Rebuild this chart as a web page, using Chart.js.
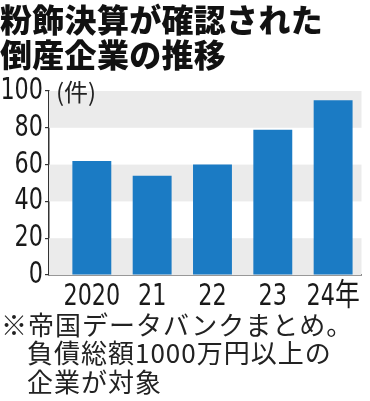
<!DOCTYPE html>
<html lang="ja">
<head>
<meta charset="UTF-8">
<title>粉飾決算が確認された倒産企業の推移</title>
<script src="https://cdn.jsdelivr.net/npm/chart.js@4"></script>
<style>
  body { margin: 0; width: 370px; height: 401px; position: relative; background: #fff; overflow: hidden; }
  #wrap { position: absolute; left: 0; top: 0; width: 370px; height: 401px; }
  .title {
    position: absolute; left: 0; top: 1px; margin: 0;
    font-family: "Noto Sans CJK JP", sans-serif; font-weight: 900;
    font-size: 32px; line-height: 35px; color: #111; letter-spacing: 0.3px;
  }
  .unit {
    position: absolute; left: 56px; top: 77px;
    font-family: "Noto Sans CJK JP", sans-serif; font-size: 24px; line-height: 28px; color: #222;
  }
  .note {
    position: absolute; left: 1px; top: 310px;
    font-family: "Noto Sans CJK JP", sans-serif; font-size: 26px; line-height: 28.3px; color: #222;
    letter-spacing: 1px;
  }
  .note span { display: block; padding-left: 26px; }
</style>
</head>
<body>
<div id="wrap"><canvas id="myChart" width="370" height="401"></canvas></div>
<h1 class="title">粉飾決算が確認された<br>倒産企業の推移</h1>
<div class="unit">(件)</div>
<div class="note">※帝国データバンクまとめ。<span>負債総額1000万円以上の</span><span>企業が対象</span></div>

<script>
// data
var years = ['2020', '21', '22', '23', '24年'];
var counts = [62, 54, 60, 79, 95];
var yTicks = [0, 20, 40, 60, 80, 100];
var shadedBands = [[0, 20], [40, 60], [80, 100]];

var numFont = "'DejaVu Sans Condensed', 'Noto Sans CJK JP', sans-serif";
var squeeze = 0.8; // the original uses a condensed face for numbers

// grey bands behind the bars
var bandPlugin = {
  id: 'bands',
  beforeDatasetsDraw: function (chart) {
    var ctx = chart.ctx, area = chart.chartArea, y = chart.scales.y;
    ctx.save();
    ctx.fillStyle = '#ebebeb';
    shadedBands.forEach(function (b) {
      var top = y.getPixelForValue(b[1]);
      var bottom = y.getPixelForValue(b[0]);
      ctx.fillRect(area.left, top, area.right - area.left, bottom - top);
    });
    ctx.restore();
  }
};

// narrow the tick label glyphs around their anchor point
var narrowText = {
  id: 'narrowText',
  beforeDraw: function (chart) {
    var ctx = chart.ctx;
    var orig = ctx.fillText;
    ctx._origFillText = orig;
    ctx.fillText = function (t, x, y, w) {
      this.save();
      this.translate(x, y);
      this.scale(squeeze, 1);
      orig.call(this, t, 0, 0);
      this.restore();
    };
  },
  afterDraw: function (chart) {
    var ctx = chart.ctx;
    if (ctx._origFillText) { ctx.fillText = ctx._origFillText; }
  }
};

var ctx = document.getElementById('myChart').getContext('2d');
var myBarChart = new Chart(ctx, {
  type: 'bar',
  data: {
    datasets: [{
      data: counts.map(function (v, i) { return { x: i, y: v }; }),
      backgroundColor: '#1b7bc4',
      borderWidth: 0,
      categoryPercentage: 1,
      barPercentage: 0.645
    }]
  },
  options: {
    responsive: false,
    animation: false,
    layout: { padding: { top: 91, right: 7, bottom: 0, left: 0 } },
    plugins: { legend: { display: false }, tooltip: { enabled: false }, title: { display: false } },
    scales: {
      x: {
        type: 'linear',
        min: -0.71,
        max: 4.47,
        offset: false,
        afterFit: function (axis) { axis.height = 126; },
        afterBuildTicks: function (axis) {
          axis.ticks = years.map(function (_, i) { return { value: i }; });
        },
        grid: { display: true, drawOnChartArea: false, drawTicks: false, offset: false },
        border: { display: true, color: '#333', width: 1.5 },
        ticks: {
          padding: 3,
          maxRotation: 0,
          autoSkip: false,
          color: '#1a1a1a',
          font: { family: numFont, size: 31 },
          callback: function (v) { return years[Math.round(v)]; }
        }
      },
      y: {
        min: 0,
        max: 100,
        afterFit: function (axis) { axis.width = 49; },
        afterBuildTicks: function (axis) {
          axis.ticks = yTicks.map(function (v) { return { value: v }; });
        },
        grid: { drawOnChartArea: false, drawTicks: true, tickLength: 4, color: '#333', lineWidth: 1.2 },
        border: { display: true, color: '#333', width: 1.5 },
        ticks: {
          padding: 2,
          autoSkip: false,
          color: '#1a1a1a',
          font: { family: numFont, size: 31 }
        }
      }
    }
  },
  plugins: [bandPlugin, narrowText]
});
</script>
</body>
</html>
